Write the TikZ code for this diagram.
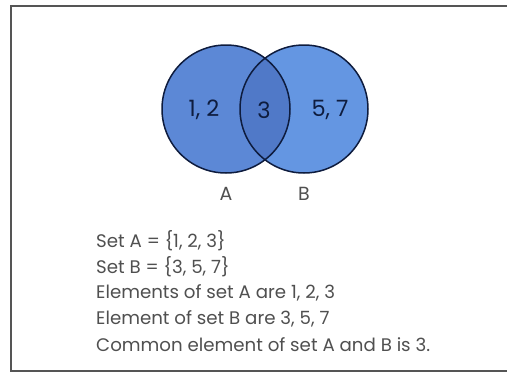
\documentclass[tikz,border=0pt]{standalone}
\usepackage{fontspec}
\setmainfont{Poppins}
\usepackage{xcolor}
\usetikzlibrary{positioning}
\definecolor{setleft}{RGB}{92,136,214}
\definecolor{setright}{RGB}{100,150,226}
\definecolor{setboth}{RGB}{80,121,200}
\definecolor{rim}{RGB}{14,28,62}
\definecolor{frame}{RGB}{85,85,85}
\definecolor{txtgray}{RGB}{80,80,80}

\begin{document}
\begin{tikzpicture}[
  x=1pt,y=-1pt,
  setc/.style={circle,minimum size=128pt,inner sep=0pt},
  val/.style={font=\fontsize{22.5}{25}\selectfont,text=rim},
  lab/.style={font=\fontsize{19}{22}\selectfont,text=txtgray,inner sep=0pt},
  txt/.style={anchor=west,font=\fontsize{18.2}{20}\selectfont,text=txtgray,inner sep=0pt}
]
\useasboundingbox (0,0) rectangle (507,378);
\fill[white] (0,0) rectangle (507,378);
% frame (right side runs off the page)
\draw[frame,line width=2pt] (508,6) -- (11,6) -- (11,371) -- (508,371);

% the two sets
\node[setc,fill=setleft] (A) at (226,109) {};
\node[setc,fill=setright] (B) at (304,109) {};
\begin{scope}
  \clip (226,109) circle[radius=64pt];
  \fill[setboth] (304,109) circle[radius=64pt];
\end{scope}
\draw[rim,line width=1.5pt] (A.center) circle[radius=64pt];
\draw[rim,line width=1.5pt] (B.center) circle[radius=64pt];

\node[val] (onlyA) at (204,110) {1, 2};
\node[val] (both) at (264,110) {3};
\node[val] (onlyB) at (330,110) {5, 7};

\node[lab,below=14pt of A] (nameA) {A};
\node[lab,below=14pt of B] (nameB) {B};

% explanation
\foreach \t [count=\i] in {{Set A = \{1, 2, 3\}},{Set B = \{3, 5, 7\}},
  {Elements of set A are 1, 2, 3},{Element of set B are 3, 5, 7},
  {Common element of set A and B is 3.}}
  \node[txt] (line\i) at (96,215+26*\i) {\t};
\end{tikzpicture}
\end{document}
